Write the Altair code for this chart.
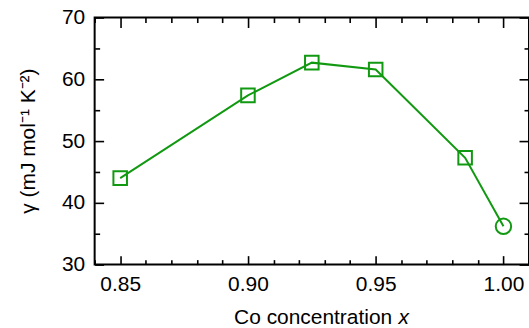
import altair as alt
import pandas as pd

# ---- data ----
co_x = [0.85, 0.90, 0.925, 0.95, 0.985, 1.00]
gamma = [44.0, 57.4, 62.7, 61.6, 47.3, 36.2]
shapes = ["square", "square", "square", "square", "square", "circle"]

x_major = [0.85, 0.90, 0.95, 1.00]
x_minor = [0.84, 0.86, 0.87, 0.88, 0.89, 0.91, 0.92, 0.93, 0.94,
           0.96, 0.97, 0.98, 0.99, 1.01]
y_major = [30, 40, 50, 60, 70]
y_minor = [35, 45, 55, 65]

x_title = ["Co concentration"]
x_title_var = ["x"]
y_title = ["γ (mJ mol⁻¹ K⁻²)"]

GREEN = "#119911"
FONT = "Liberation Sans"

df = pd.DataFrame({"x": co_x, "g": gamma, "shape": shapes})

xs = alt.Scale(domain=[0.84, 1.01], nice=False, zero=False)
ys = alt.Scale(domain=[30, 70], nice=False, zero=False)


def tick_axis(orient, values, size):
    return alt.Axis(orient=orient, values=values, tickSize=size, offset=-size,
                    labels=False, domain=False, grid=False, title=None,
                    tickWidth=1.6, tickColor="black")


def axis_layer(xaxis, yaxis):
    return alt.Chart(df).mark_point(opacity=0).encode(
        x=alt.X("x:Q", scale=xs, axis=xaxis),
        y=alt.Y("g:Q", scale=ys, axis=yaxis),
    )


label_x_axis = alt.Axis(orient="bottom", values=x_major, format=".2f", ticks=False,
                        domain=False, grid=False, title=None, labelFont=FONT,
                        labelFontSize=21, labelColor="black", labelPadding=9)
label_y_axis = alt.Axis(orient="left", values=y_major, format="d", ticks=False,
                        domain=False, grid=False, title=None, labelFont=FONT,
                        labelFontSize=21, labelColor="black", labelPadding=10)

line = alt.Chart(df).mark_line(color=GREEN, strokeWidth=2).encode(
    x=alt.X("x:Q", scale=xs, axis=label_x_axis),
    y=alt.Y("g:Q", scale=ys, axis=label_y_axis),
)

points = alt.Chart(df).mark_point(filled=False, color=GREEN, strokeWidth=2,
                                  opacity=1).encode(
    x=alt.X("x:Q", scale=xs, axis=None),
    y=alt.Y("g:Q", scale=ys, axis=None),
    shape=alt.Shape("shape:N", scale=None),
    size=alt.condition("datum.shape == 'circle'", alt.value(240), alt.value(185)),
)

layers = [
    axis_layer(tick_axis("bottom", x_major, 9), None),
    axis_layer(tick_axis("bottom", x_minor, 5), None),
    axis_layer(tick_axis("top", x_major, 10), None),
    axis_layer(tick_axis("top", x_minor, 5), None),
    axis_layer(None, tick_axis("left", y_major, 9)),
    axis_layer(None, tick_axis("left", y_minor, 5)),
    axis_layer(None, tick_axis("right", y_major, 10)),
    axis_layer(None, tick_axis("right", y_minor, 5)),
]

xt = alt.Chart(pd.DataFrame({"t": x_title})).mark_text(
    font=FONT, fontSize=21, align="left", baseline="alphabetic", color="black"
).encode(text="t:N", x=alt.value(140), y=alt.value(308))

xv = alt.Chart(pd.DataFrame({"t": x_title_var})).mark_text(
    font=FONT, fontSize=21, fontStyle="italic", align="left",
    baseline="alphabetic", color="black"
).encode(text="t:N", x=alt.value(305), y=alt.value(308))

yt = alt.Chart(pd.DataFrame({"t": y_title})).mark_text(
    font=FONT, fontSize=21, align="center", baseline="middle", angle=270,
    color="black"
).encode(text="t:N", x=alt.value(-66), y=alt.value(124))

chart = alt.layer(*layers, line, points, xt, xv, yt).resolve_axis(
    x="independent", y="independent"
).properties(
    width=436, height=248,
    padding={"left": 95, "top": 17, "right": 0, "bottom": 63},
    autosize=alt.AutoSizeParams(type="none"),
    background="white",
).configure_view(stroke="black", strokeWidth=2)

chart.save("out.html", embed_options={"renderer": "svg", "actions": False})
